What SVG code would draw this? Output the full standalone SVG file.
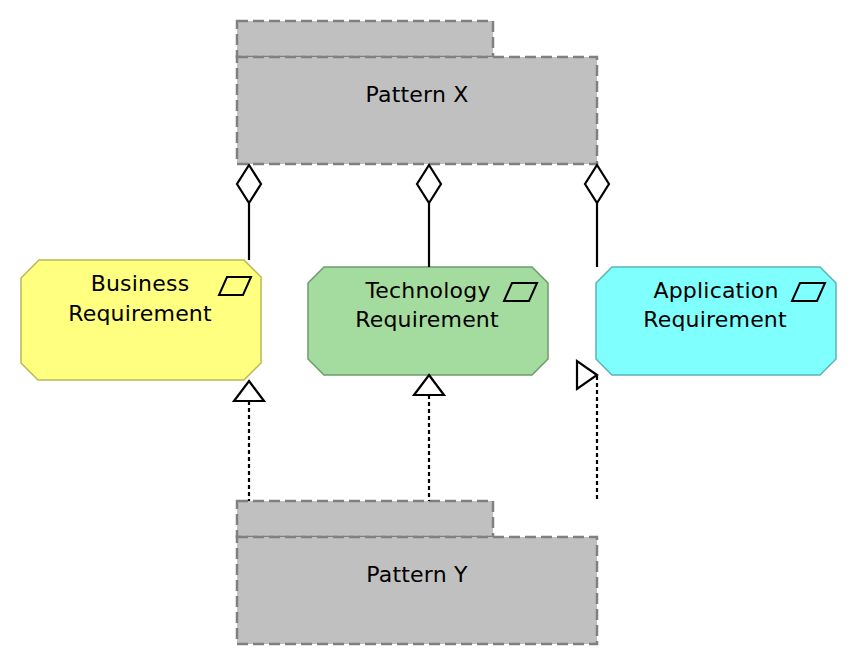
<svg xmlns="http://www.w3.org/2000/svg" width="856" height="666" viewBox="0 0 856 666">
<style>
.pat{fill:#c0c0c0;stroke:#808080;stroke-width:2.5;stroke-dasharray:11 5}
.t{font-family:"DejaVu Sans",Verdana,sans-serif;font-size:22px;fill:#000;text-anchor:middle;letter-spacing:0.2px}
.icon{fill:none;stroke:#000;stroke-width:2}
.agg{stroke:#000;stroke-width:2.2;fill:none}
.real{stroke:#000;stroke-width:2.2;fill:none;stroke-dasharray:4 3}
.head{fill:#fff;stroke:#000;stroke-width:2.2}
</style>
<rect width="856" height="666" fill="#ffffff"/>
<g id="patternX">
<rect class="pat" x="237" y="21" width="256" height="36"/>
<rect class="pat" x="237" y="57" width="360" height="107"/>
<text class="t" x="417" y="102">Pattern X</text>
</g>
<g id="patternY">
<rect class="pat" x="237" y="501" width="256" height="36"/>
<rect class="pat" x="237" y="537" width="360" height="107"/>
<text class="t" x="417" y="582">Pattern Y</text>
</g>
<g id="business">
<polygon points="39,260 244,260 261,277 261,363 244,380 38,380 21,363 21,278" fill="#ffff80" stroke="#b8b858" stroke-width="1.5"/>
<text class="t" x="140" y="291">Business</text>
<text class="t" x="140" y="321">Requirement</text>
<polygon class="icon" points="227,277 251,277 243,295 219,295"/>
</g>
<g id="technology">
<polygon points="324,267 532,267 548,283 548,359 532,375 324,375 308,359 308,283" fill="#a4dca0" stroke="#6c9a6c" stroke-width="1.5"/>
<text class="t" x="428" y="298">Technology</text>
<text class="t" x="427" y="327">Requirement</text>
<polygon class="icon" points="512,283 537,283 529,301 504,301"/>
</g>
<g id="application">
<polygon points="612,267 820,267 836,283 836,359 820,375 612,375 596,359 596,283" fill="#80ffff" stroke="#5ab4b4" stroke-width="1.5"/>
<text class="t" x="716" y="298">Application</text>
<text class="t" x="715" y="327">Requirement</text>
<polygon class="icon" points="800,283 825,283 817,301 792,301"/>
</g>
<g id="connectors">
<line class="agg" x1="249" y1="203" x2="249" y2="260"/>
<polygon class="head" points="249,165 261,184 249,203 237,184"/>
<line class="agg" x1="429" y1="203" x2="429" y2="267"/>
<polygon class="head" points="429,165 441,184 429,203 417,184"/>
<line class="agg" x1="597" y1="203" x2="597" y2="267"/>
<polygon class="head" points="597,165 609,184 597,203 585,184"/>
<line class="real" x1="249" y1="401" x2="249" y2="501"/>
<polygon class="head" points="249,381 264,401 234,401"/>
<line class="real" x1="429" y1="395" x2="429" y2="501"/>
<polygon class="head" points="429,375 444,395 414,395"/>
<line class="real" x1="597" y1="376" x2="597" y2="501"/>
<polygon class="head" points="597,375 577,361 577,389"/>
</g>
</svg>
